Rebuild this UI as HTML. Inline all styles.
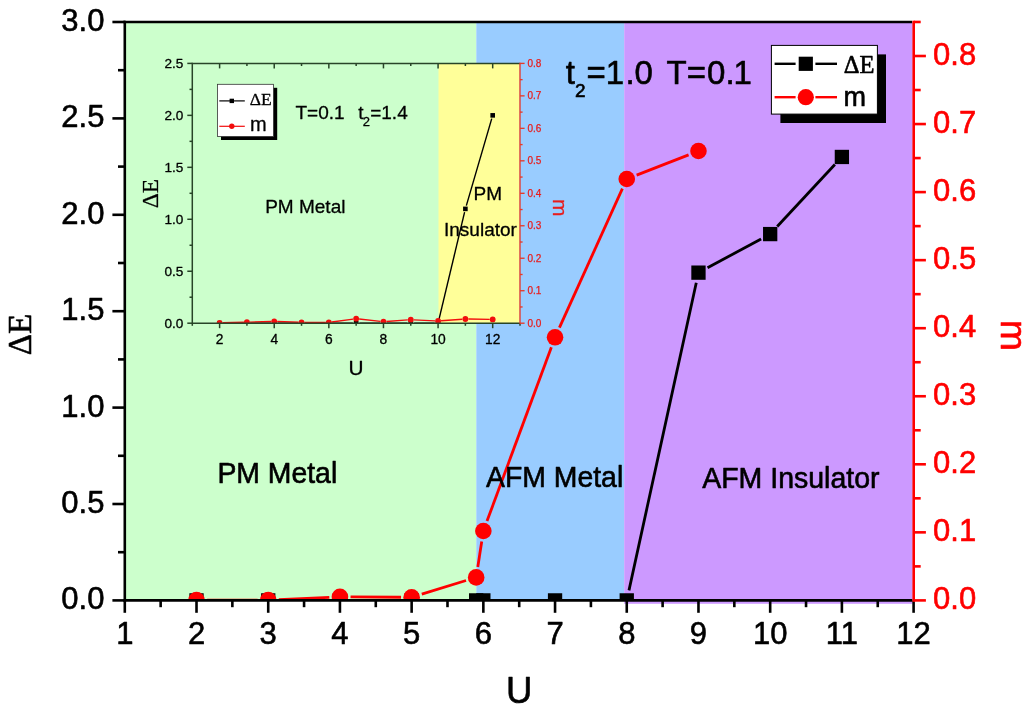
<!DOCTYPE html>
<html lang="en"><head><meta charset="utf-8"><title>Phase diagram</title>
<style>html,body{margin:0;padding:0;background:#fff}svg{display:block}</style></head>
<body>
<svg width="1029" height="712" viewBox="0 0 1029 712" font-family='"Liberation Sans", Arial, Helvetica, sans-serif'>
<defs>
<clipPath id="cm"><rect x="124.8" y="22.0" width="788.8000000000001" height="578.4"/></clipPath>
<clipPath id="ci"><rect x="192.3" y="63.4" width="327.7" height="259.8"/></clipPath>
</defs>
<rect width="1029" height="712" fill="#fff"/>
<style>text{stroke-linejoin:round} .b text,.b{stroke:#000;stroke-width:.6px} .s text,.s{stroke:#000;stroke-width:.3px} .r text,.r{stroke:#ff0000;stroke-width:.6px} .sr{stroke:#e81c1c;stroke-width:.3px}</style>
<rect x="124.8" y="22.0" width="351.5" height="578.4" fill="#ccffcc"/>
<rect x="476.3" y="22.0" width="147.90000000000003" height="578.4" fill="#99ccff"/>
<rect x="624.2" y="22.0" width="288.4" height="581.8" fill="#cc99ff"/>
<rect x="192.3" y="63.4" width="246.2" height="259.8" fill="#ccffcc"/>
<rect x="438.5" y="63.4" width="81.10000000000002" height="259.8" fill="#ffff99"/>
<g clip-path="url(#ci)">
<line x1="223.01" y1="323.20" x2="243.52" y2="323.20" stroke="#000" stroke-width="1.4"/>
<line x1="250.32" y1="323.20" x2="270.83" y2="323.20" stroke="#000" stroke-width="1.4"/>
<line x1="277.62" y1="323.20" x2="298.13" y2="323.20" stroke="#000" stroke-width="1.4"/>
<line x1="304.93" y1="323.20" x2="325.44" y2="323.20" stroke="#000" stroke-width="1.4"/>
<line x1="332.24" y1="323.20" x2="352.75" y2="323.20" stroke="#000" stroke-width="1.4"/>
<line x1="359.55" y1="323.20" x2="380.06" y2="323.20" stroke="#000" stroke-width="1.4"/>
<line x1="386.86" y1="323.20" x2="407.37" y2="323.20" stroke="#000" stroke-width="1.4"/>
<line x1="414.17" y1="323.20" x2="434.68" y2="323.20" stroke="#000" stroke-width="1.4"/>
<line x1="438.87" y1="319.89" x2="464.59" y2="212.19" stroke="#000" stroke-width="1.4"/>
<line x1="466.34" y1="205.62" x2="491.74" y2="118.62" stroke="#000" stroke-width="1.4"/>
<rect x="217.31" y="320.90" width="4.6" height="4.6" fill="#000"/>
<rect x="244.62" y="320.90" width="4.6" height="4.6" fill="#000"/>
<rect x="271.93" y="320.90" width="4.6" height="4.6" fill="#000"/>
<rect x="299.23" y="320.90" width="4.6" height="4.6" fill="#000"/>
<rect x="326.54" y="320.90" width="4.6" height="4.6" fill="#000"/>
<rect x="353.85" y="320.90" width="4.6" height="4.6" fill="#000"/>
<rect x="381.16" y="320.90" width="4.6" height="4.6" fill="#000"/>
<rect x="408.47" y="320.90" width="4.6" height="4.6" fill="#000"/>
<rect x="435.78" y="320.90" width="4.6" height="4.6" fill="#000"/>
<rect x="463.08" y="206.59" width="4.6" height="4.6" fill="#000"/>
<rect x="490.39" y="113.06" width="4.6" height="4.6" fill="#000"/>
</g>
<g clip-path="url(#ci)">
<line x1="222.61" y1="322.82" x2="243.92" y2="322.28" stroke="#f20d0d" stroke-width="1.4"/>
<line x1="249.92" y1="322.11" x2="271.23" y2="321.49" stroke="#f20d0d" stroke-width="1.4"/>
<line x1="277.22" y1="321.51" x2="298.54" y2="322.29" stroke="#f20d0d" stroke-width="1.4"/>
<line x1="304.53" y1="322.40" x2="325.84" y2="322.40" stroke="#f20d0d" stroke-width="1.4"/>
<line x1="331.81" y1="322.00" x2="353.18" y2="319.10" stroke="#f20d0d" stroke-width="1.4"/>
<line x1="359.13" y1="319.03" x2="380.48" y2="321.37" stroke="#f20d0d" stroke-width="1.4"/>
<line x1="386.45" y1="321.48" x2="407.77" y2="319.92" stroke="#f20d0d" stroke-width="1.4"/>
<line x1="413.76" y1="319.84" x2="435.08" y2="320.86" stroke="#f20d0d" stroke-width="1.4"/>
<line x1="441.07" y1="320.78" x2="462.39" y2="319.22" stroke="#f20d0d" stroke-width="1.4"/>
<line x1="468.38" y1="319.04" x2="489.69" y2="319.36" stroke="#f20d0d" stroke-width="1.4"/>
<circle cx="219.61" cy="322.90" r="2.9" fill="#f20d0d"/>
<circle cx="246.92" cy="322.20" r="2.9" fill="#f20d0d"/>
<circle cx="274.23" cy="321.40" r="2.9" fill="#f20d0d"/>
<circle cx="301.53" cy="322.40" r="2.9" fill="#f20d0d"/>
<circle cx="328.84" cy="322.40" r="2.9" fill="#f20d0d"/>
<circle cx="356.15" cy="318.70" r="2.9" fill="#f20d0d"/>
<circle cx="383.46" cy="321.70" r="2.9" fill="#f20d0d"/>
<circle cx="410.77" cy="319.70" r="2.9" fill="#f20d0d"/>
<circle cx="438.08" cy="321.00" r="2.9" fill="#f20d0d"/>
<circle cx="465.38" cy="319.00" r="2.9" fill="#f20d0d"/>
<circle cx="492.69" cy="319.40" r="2.9" fill="#f20d0d"/>
</g>
<g stroke="#284428" stroke-width="1.5" fill="none">
<line x1="192.3" y1="62.8" x2="192.3" y2="323.8"/>
<line x1="192.3" y1="323.2" x2="520.0" y2="323.2"/>
<line x1="192.3" y1="63.4" x2="520.0" y2="63.4"/>
<line x1="192.30" y1="323.2" x2="192.30" y2="325.8"/>
<line x1="219.61" y1="323.2" x2="219.61" y2="328.2"/>
<line x1="219.61" y1="63.4" x2="219.61" y2="68.4"/>
<line x1="246.92" y1="323.2" x2="246.92" y2="325.8"/>
<line x1="246.92" y1="63.4" x2="246.92" y2="66.0"/>
<line x1="274.23" y1="323.2" x2="274.23" y2="328.2"/>
<line x1="274.23" y1="63.4" x2="274.23" y2="68.4"/>
<line x1="301.53" y1="323.2" x2="301.53" y2="325.8"/>
<line x1="301.53" y1="63.4" x2="301.53" y2="66.0"/>
<line x1="328.84" y1="323.2" x2="328.84" y2="328.2"/>
<line x1="328.84" y1="63.4" x2="328.84" y2="68.4"/>
<line x1="356.15" y1="323.2" x2="356.15" y2="325.8"/>
<line x1="356.15" y1="63.4" x2="356.15" y2="66.0"/>
<line x1="383.46" y1="323.2" x2="383.46" y2="328.2"/>
<line x1="383.46" y1="63.4" x2="383.46" y2="68.4"/>
<line x1="410.77" y1="323.2" x2="410.77" y2="325.8"/>
<line x1="410.77" y1="63.4" x2="410.77" y2="66.0"/>
<line x1="438.08" y1="323.2" x2="438.08" y2="328.2"/>
<line x1="438.08" y1="63.4" x2="438.08" y2="68.4"/>
<line x1="465.38" y1="323.2" x2="465.38" y2="325.8"/>
<line x1="465.38" y1="63.4" x2="465.38" y2="66.0"/>
<line x1="492.69" y1="323.2" x2="492.69" y2="328.2"/>
<line x1="492.69" y1="63.4" x2="492.69" y2="68.4"/>
<line x1="520.00" y1="323.2" x2="520.00" y2="325.8"/>
<line x1="187.3" y1="323.20" x2="192.3" y2="323.20"/>
<line x1="189.5" y1="297.22" x2="192.3" y2="297.22"/>
<line x1="187.3" y1="271.24" x2="192.3" y2="271.24"/>
<line x1="189.5" y1="245.26" x2="192.3" y2="245.26"/>
<line x1="187.3" y1="219.28" x2="192.3" y2="219.28"/>
<line x1="189.5" y1="193.30" x2="192.3" y2="193.30"/>
<line x1="187.3" y1="167.32" x2="192.3" y2="167.32"/>
<line x1="189.5" y1="141.34" x2="192.3" y2="141.34"/>
<line x1="187.3" y1="115.36" x2="192.3" y2="115.36"/>
<line x1="189.5" y1="89.38" x2="192.3" y2="89.38"/>
<line x1="187.3" y1="63.40" x2="192.3" y2="63.40"/>
</g>
<g stroke="#e63a2a" stroke-width="1.35" fill="none">
<line x1="520.0" y1="62.8" x2="520.0" y2="323.8"/>
<line x1="520.0" y1="323.20" x2="524.6" y2="323.20"/>
<line x1="520.0" y1="306.96" x2="522.6" y2="306.96"/>
<line x1="520.0" y1="290.72" x2="524.6" y2="290.72"/>
<line x1="520.0" y1="274.49" x2="522.6" y2="274.49"/>
<line x1="520.0" y1="258.25" x2="524.6" y2="258.25"/>
<line x1="520.0" y1="242.01" x2="522.6" y2="242.01"/>
<line x1="520.0" y1="225.77" x2="524.6" y2="225.77"/>
<line x1="520.0" y1="209.54" x2="522.6" y2="209.54"/>
<line x1="520.0" y1="193.30" x2="524.6" y2="193.30"/>
<line x1="520.0" y1="177.06" x2="522.6" y2="177.06"/>
<line x1="520.0" y1="160.82" x2="524.6" y2="160.82"/>
<line x1="520.0" y1="144.59" x2="522.6" y2="144.59"/>
<line x1="520.0" y1="128.35" x2="524.6" y2="128.35"/>
<line x1="520.0" y1="112.11" x2="522.6" y2="112.11"/>
<line x1="520.0" y1="95.87" x2="524.6" y2="95.87"/>
<line x1="520.0" y1="79.64" x2="522.6" y2="79.64"/>
<line x1="520.0" y1="63.40" x2="524.6" y2="63.40"/>
</g>
<g class="s" font-size="13.6" fill="#000" text-anchor="end">
<text x="183.3" y="327.70">0.0</text>
<text x="183.3" y="275.74">0.5</text>
<text x="183.3" y="223.78">1.0</text>
<text x="183.3" y="171.82">1.5</text>
<text x="183.3" y="119.86">2.0</text>
<text x="183.3" y="67.90">2.5</text>
</g>
<g class="s" font-size="13.8" fill="#000" text-anchor="middle">
<text x="219.61" y="343.8">2</text>
<text x="274.23" y="343.8">4</text>
<text x="328.84" y="343.8">6</text>
<text x="383.46" y="343.8">8</text>
<text x="438.08" y="343.8">10</text>
<text x="492.69" y="343.8">12</text>
</g>
<g font-size="10" fill="#e81c1c" text-anchor="start" stroke="#e81c1c" stroke-width="0.25">
<text x="527.5" y="326.50">0.0</text>
<text x="527.5" y="294.02">0.1</text>
<text x="527.5" y="261.55">0.2</text>
<text x="527.5" y="229.07">0.3</text>
<text x="527.5" y="196.60">0.4</text>
<text x="527.5" y="164.12">0.5</text>
<text x="527.5" y="131.65">0.6</text>
<text x="527.5" y="99.17">0.7</text>
<text x="527.5" y="66.70">0.8</text>
</g>
<text class="s" x="355.9" y="375.1" font-size="20.8" text-anchor="middle">U</text>
<text class="s" transform="translate(157.8,193.6) rotate(-90)" font-family='"Liberation Serif", "Times New Roman", Times, serif' font-size="23.5" text-anchor="middle">ΔE</text>
<text class="sr" transform="translate(553.1,207.7) rotate(90)" font-size="21" fill="#e81c1c" text-anchor="middle">m</text>
<text class="s" x="295.5" y="118.7" font-size="19">T=0.1</text>
<text class="s" x="358.2" y="118.7" font-size="19">t</text>
<text class="s" x="362.7" y="126" font-size="13">2</text>
<text class="s" x="370.2" y="118.7" font-size="19">=1.4</text>
<text class="s" x="265.2" y="213.3" font-size="19">PM Metal</text>
<text class="s" x="473.6" y="200.4" font-size="19">PM</text>
<text class="s" x="444" y="236.3" font-size="19">Insulator</text>
<rect x="221" y="87.8" width="56.2" height="52.2" fill="#000"/>
<rect x="217.4" y="84.3" width="56.1" height="52.2" fill="#fff" stroke="#333" stroke-width="0.8"/>
<line x1="219.3" y1="100.9" x2="244.8" y2="100.9" stroke="#000" stroke-width="1.2"/>
<rect x="229.6" y="98.7" width="4.4" height="4.4" fill="#000"/>
<line x1="219.3" y1="126.3" x2="244.8" y2="126.3" stroke="#f20d0d" stroke-width="1.2"/>
<circle cx="231.8" cy="126.3" r="2.7" fill="#f20d0d"/>
<text class="s" x="249.8" y="104.8" font-family='"Liberation Serif", "Times New Roman", Times, serif' font-size="17.5">ΔE</text>
<text class="s" x="249.9" y="130.6" font-size="20">m</text>
<g clip-path="url(#cm)">
<line x1="206.81" y1="600.40" x2="257.92" y2="600.40" stroke="#000" stroke-width="2.8"/>
<line x1="278.52" y1="600.40" x2="329.63" y2="600.40" stroke="#000" stroke-width="2.8"/>
<line x1="350.23" y1="600.40" x2="401.34" y2="600.40" stroke="#000" stroke-width="2.8"/>
<line x1="421.94" y1="600.40" x2="465.87" y2="600.40" stroke="#000" stroke-width="2.8"/>
<line x1="493.65" y1="600.40" x2="544.75" y2="600.40" stroke="#000" stroke-width="2.8"/>
<line x1="565.35" y1="600.40" x2="616.46" y2="600.40" stroke="#000" stroke-width="2.8"/>
<line x1="628.97" y1="590.34" x2="696.27" y2="282.70" stroke="#000" stroke-width="2.8"/>
<line x1="707.54" y1="267.76" x2="761.11" y2="238.96" stroke="#000" stroke-width="2.8"/>
<line x1="777.20" y1="226.54" x2="834.88" y2="164.50" stroke="#000" stroke-width="2.8"/>
<rect x="189.36" y="593.25" width="14.3" height="14.3" fill="#000"/>
<rect x="261.07" y="593.25" width="14.3" height="14.3" fill="#000"/>
<rect x="332.78" y="593.25" width="14.3" height="14.3" fill="#000"/>
<rect x="404.49" y="593.25" width="14.3" height="14.3" fill="#000"/>
<rect x="469.02" y="593.25" width="14.3" height="14.3" fill="#000"/>
<rect x="476.20" y="593.25" width="14.3" height="14.3" fill="#000"/>
<rect x="547.90" y="593.25" width="14.3" height="14.3" fill="#000"/>
<rect x="619.61" y="593.25" width="14.3" height="14.3" fill="#000"/>
<rect x="691.32" y="265.49" width="14.3" height="14.3" fill="#000"/>
<rect x="763.03" y="226.93" width="14.3" height="14.3" fill="#000"/>
<rect x="834.74" y="149.81" width="14.3" height="14.3" fill="#000"/>
</g>
<g clip-path="url(#cm)">
<line x1="207.11" y1="600.10" x2="257.62" y2="600.10" stroke="#ff0000" stroke-width="2.8"/>
<line x1="278.81" y1="599.61" x2="329.34" y2="597.29" stroke="#ff0000" stroke-width="2.8"/>
<line x1="350.53" y1="596.87" x2="401.04" y2="597.23" stroke="#ff0000" stroke-width="2.8"/>
<line x1="421.77" y1="594.18" x2="466.05" y2="580.52" stroke="#ff0000" stroke-width="2.8"/>
<line x1="477.79" y1="566.92" x2="481.73" y2="541.48" stroke="#ff0000" stroke-width="2.8"/>
<line x1="487.03" y1="521.06" x2="551.37" y2="347.24" stroke="#ff0000" stroke-width="2.8"/>
<line x1="559.43" y1="327.64" x2="622.39" y2="188.66" stroke="#ff0000" stroke-width="2.8"/>
<line x1="636.64" y1="175.14" x2="688.60" y2="154.86" stroke="#ff0000" stroke-width="2.8"/>
<circle cx="196.51" cy="600.10" r="8.3" fill="#ff0000"/>
<circle cx="268.22" cy="600.10" r="8.3" fill="#ff0000"/>
<circle cx="339.93" cy="596.80" r="8.3" fill="#ff0000"/>
<circle cx="411.64" cy="597.30" r="8.3" fill="#ff0000"/>
<circle cx="476.17" cy="577.40" r="8.3" fill="#ff0000"/>
<circle cx="483.35" cy="531.00" r="8.3" fill="#ff0000"/>
<circle cx="555.05" cy="337.30" r="8.3" fill="#ff0000"/>
<circle cx="626.76" cy="179.00" r="8.3" fill="#ff0000"/>
<circle cx="698.47" cy="151.00" r="8.3" fill="#ff0000"/>
</g>
<text class="b" x="217.4" y="483.1" font-size="28.6" textLength="119.8" lengthAdjust="spacingAndGlyphs">PM Metal</text>
<text class="b" x="486" y="486.9" font-size="28.8" textLength="137.2" lengthAdjust="spacingAndGlyphs">AFM Metal</text>
<text class="b" x="702.2" y="487.8" font-size="28.8" textLength="177.3" lengthAdjust="spacingAndGlyphs">AFM Insulator</text>
<text class="b" x="565.8" y="83.5" font-size="33">t</text>
<text class="b" x="575" y="96.8" font-size="19">2</text>
<text class="b" x="586.5" y="83.5" font-size="33">=1<tspan dx="1.3">.0</tspan></text>
<text class="b" x="666.5" y="83.5" font-size="33">T=<tspan dx="1.1">0.</tspan><tspan dx="-1.1">1</tspan></text>
<g stroke="#000" stroke-width="2.6" fill="none">
<line x1="124.8" y1="20.7" x2="124.8" y2="601.6999999999999"/>
<line x1="123.5" y1="600.4" x2="912.4" y2="600.4"/>
<line x1="123.5" y1="22.0" x2="912.2" y2="22.0"/>
<line x1="124.80" y1="600.4" x2="124.80" y2="612.8"/>
<line x1="160.65" y1="600.4" x2="160.65" y2="607.1999999999999"/>
<line x1="196.51" y1="600.4" x2="196.51" y2="612.8"/>
<line x1="232.36" y1="600.4" x2="232.36" y2="607.1999999999999"/>
<line x1="268.22" y1="600.4" x2="268.22" y2="612.8"/>
<line x1="304.07" y1="600.4" x2="304.07" y2="607.1999999999999"/>
<line x1="339.93" y1="600.4" x2="339.93" y2="612.8"/>
<line x1="375.78" y1="600.4" x2="375.78" y2="607.1999999999999"/>
<line x1="411.64" y1="600.4" x2="411.64" y2="612.8"/>
<line x1="447.49" y1="600.4" x2="447.49" y2="607.1999999999999"/>
<line x1="483.35" y1="600.4" x2="483.35" y2="612.8"/>
<line x1="519.20" y1="600.4" x2="519.20" y2="607.1999999999999"/>
<line x1="555.05" y1="600.4" x2="555.05" y2="612.8"/>
<line x1="590.91" y1="600.4" x2="590.91" y2="607.1999999999999"/>
<line x1="626.76" y1="600.4" x2="626.76" y2="612.8"/>
<line x1="662.62" y1="600.4" x2="662.62" y2="607.1999999999999"/>
<line x1="698.47" y1="600.4" x2="698.47" y2="612.8"/>
<line x1="734.33" y1="600.4" x2="734.33" y2="607.1999999999999"/>
<line x1="770.18" y1="600.4" x2="770.18" y2="612.8"/>
<line x1="806.04" y1="600.4" x2="806.04" y2="607.1999999999999"/>
<line x1="841.89" y1="600.4" x2="841.89" y2="612.8"/>
<line x1="877.75" y1="600.4" x2="877.75" y2="607.1999999999999"/>
<line x1="913.60" y1="600.4" x2="913.60" y2="612.8"/>
<line x1="112.39999999999999" y1="600.40" x2="124.8" y2="600.40"/>
<line x1="118.0" y1="552.20" x2="124.8" y2="552.20"/>
<line x1="112.39999999999999" y1="504.00" x2="124.8" y2="504.00"/>
<line x1="118.0" y1="455.80" x2="124.8" y2="455.80"/>
<line x1="112.39999999999999" y1="407.60" x2="124.8" y2="407.60"/>
<line x1="118.0" y1="359.40" x2="124.8" y2="359.40"/>
<line x1="112.39999999999999" y1="311.20" x2="124.8" y2="311.20"/>
<line x1="118.0" y1="263.00" x2="124.8" y2="263.00"/>
<line x1="112.39999999999999" y1="214.80" x2="124.8" y2="214.80"/>
<line x1="118.0" y1="166.60" x2="124.8" y2="166.60"/>
<line x1="112.39999999999999" y1="118.40" x2="124.8" y2="118.40"/>
<line x1="118.0" y1="70.20" x2="124.8" y2="70.20"/>
<line x1="112.39999999999999" y1="22.00" x2="124.8" y2="22.00"/>
</g>
<g stroke="#ff0000" stroke-width="2.6" fill="none">
<line x1="913.7" y1="20.7" x2="913.7" y2="601.6999999999999"/>
<line x1="913.7" y1="600.40" x2="925.9000000000001" y2="600.40"/>
<line x1="913.7" y1="566.38" x2="920.7" y2="566.38"/>
<line x1="913.7" y1="532.35" x2="925.9000000000001" y2="532.35"/>
<line x1="913.7" y1="498.32" x2="920.7" y2="498.32"/>
<line x1="913.7" y1="464.30" x2="925.9000000000001" y2="464.30"/>
<line x1="913.7" y1="430.27" x2="920.7" y2="430.27"/>
<line x1="913.7" y1="396.25" x2="925.9000000000001" y2="396.25"/>
<line x1="913.7" y1="362.22" x2="920.7" y2="362.22"/>
<line x1="913.7" y1="328.20" x2="925.9000000000001" y2="328.20"/>
<line x1="913.7" y1="294.17" x2="920.7" y2="294.17"/>
<line x1="913.7" y1="260.15" x2="925.9000000000001" y2="260.15"/>
<line x1="913.7" y1="226.12" x2="920.7" y2="226.12"/>
<line x1="913.7" y1="192.10" x2="925.9000000000001" y2="192.10"/>
<line x1="913.7" y1="158.07" x2="920.7" y2="158.07"/>
<line x1="913.7" y1="124.05" x2="925.9000000000001" y2="124.05"/>
<line x1="913.7" y1="90.02" x2="920.7" y2="90.02"/>
<line x1="913.7" y1="56.00" x2="925.9000000000001" y2="56.00"/>
<line x1="913.7" y1="21.97" x2="920.7" y2="21.97"/>
</g>
<g class="b" font-size="31" fill="#000" text-anchor="end">
<text x="104.4" y="609.30">0.0</text>
<text x="104.4" y="512.90">0.5</text>
<text x="104.4" y="416.50">1.0</text>
<text x="104.4" y="320.10">1.5</text>
<text x="104.4" y="223.70">2.0</text>
<text x="104.4" y="127.30">2.5</text>
<text x="104.4" y="30.90">3.0</text>
</g>
<g class="b" font-size="31" fill="#000" text-anchor="middle">
<text x="124.80" y="643.6">1</text>
<text x="196.51" y="643.6">2</text>
<text x="268.22" y="643.6">3</text>
<text x="339.93" y="643.6">4</text>
<text x="411.64" y="643.6">5</text>
<text x="483.35" y="643.6">6</text>
<text x="555.05" y="643.6">7</text>
<text x="626.76" y="643.6">8</text>
<text x="698.47" y="643.6">9</text>
<text x="770.18" y="643.6">10</text>
<text x="841.89" y="643.6">11</text>
<text x="913.60" y="643.6">12</text>
</g>
<g class="r" font-size="31" fill="#ff0000" text-anchor="start">
<text x="933.1" y="609.10">0.0</text>
<text x="933.1" y="541.05">0.1</text>
<text x="933.1" y="473.00">0.2</text>
<text x="933.1" y="404.95">0.3</text>
<text x="933.1" y="336.90">0.4</text>
<text x="933.1" y="268.85">0.5</text>
<text x="933.1" y="200.80">0.6</text>
<text x="933.1" y="132.75">0.7</text>
<text x="933.1" y="64.70">0.8</text>
</g>
<text class="b" x="519.2" y="703" font-size="36.5" text-anchor="middle">U</text>
<text class="b" transform="translate(31.1,334.5) rotate(-90)" font-family='"Liberation Serif", "Times New Roman", Times, serif' font-size="33" text-anchor="middle">ΔE</text>
<text class="r" transform="translate(1000.8,335.5) rotate(90)" font-size="37" fill="#ff0000" text-anchor="middle">m</text>
<rect x="780.4" y="54.4" width="105.6" height="68.6" fill="#000"/>
<rect x="771.4" y="45.4" width="106" height="68.7" fill="#fff" stroke="#000" stroke-width="1"/>
<line x1="774.6" y1="63.8" x2="795.6" y2="63.8" stroke="#000" stroke-width="2.4"/>
<line x1="815.4" y1="63.8" x2="837" y2="63.8" stroke="#000" stroke-width="2.4"/>
<rect x="798.7" y="56.7" width="14.2" height="14.2" fill="#000"/>
<line x1="774.6" y1="97.2" x2="795.6" y2="97.2" stroke="#ff0000" stroke-width="2.4"/>
<line x1="815.4" y1="97.2" x2="837" y2="97.2" stroke="#ff0000" stroke-width="2.4"/>
<circle cx="805.8" cy="97.2" r="8.1" fill="#ff0000"/>
<text class="b" x="843.8" y="73.1" font-family='"Liberation Serif", "Times New Roman", Times, serif' font-size="24.5">ΔE</text>
<text class="b" x="843.4" y="106" font-size="27">m</text>
</svg>
</body></html>
